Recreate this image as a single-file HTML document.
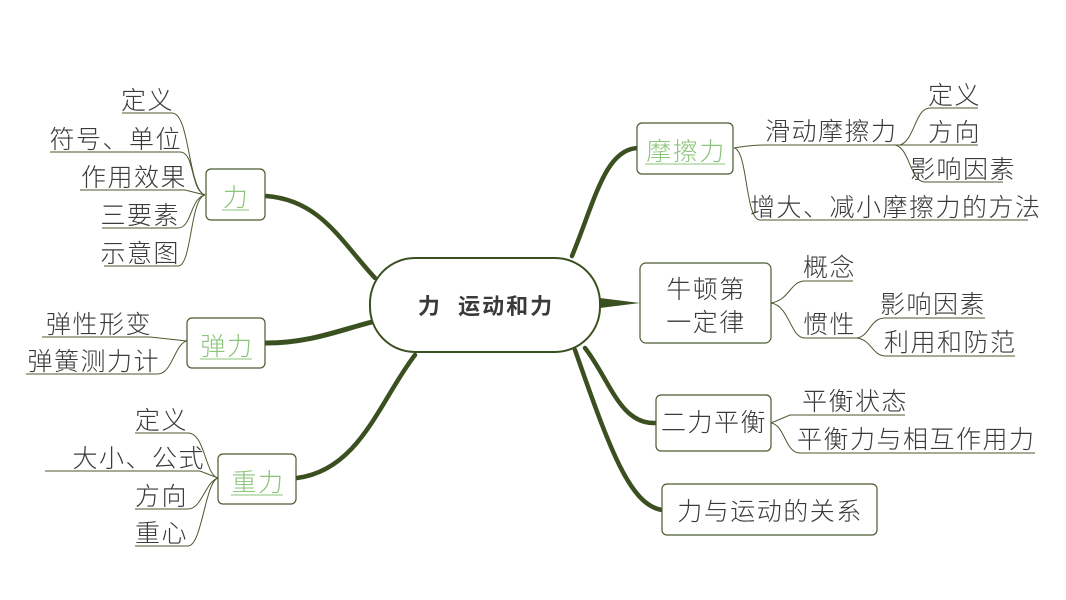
<!DOCTYPE html>
<html><head><meta charset="utf-8"><style>
html,body{margin:0;padding:0;background:#fff;width:1066px;height:600px;overflow:hidden}
text{font-family:"Liberation Sans","Noto Sans CJK SC",sans-serif;font-size:25px;letter-spacing:1.5px;fill:#3a3a3a;font-weight:300}
.g{fill:#8cc47a}
.b{fill:#fff;stroke:#4a5a30;stroke-width:1.2}
.t{fill:none;stroke:#4a5a30;stroke-width:1}
.m{fill:none;stroke:#3b5020;stroke-width:4.5;stroke-linecap:round}
</style></head><body>
<svg width="1066" height="600" xmlns="http://www.w3.org/2000/svg">
<path class="m" d="M266,196 C320,200 340,240 375,278"/>
<path class="m" d="M266,343 C310,343 340,330 372,322" style="stroke-width:5"/>
<path class="m" d="M297,478 C360,470 380,400 415,355"/>
<path class="m" d="M637,148 C605,150 595,200 572,256"/>
<path d="M640,303 L600,298 L600,308 Z" fill="#3b5020"/>
<path class="m" d="M656,423 C620,425 610,380 585,348"/>
<path class="m" d="M662,510 C630,505 610,450 575,350"/>
<rect x="370" y="258" width="230" height="94" rx="45" fill="#fff" stroke="#3b5020" stroke-width="2"/>
<text x="486" y="314" text-anchor="middle" xml:space="preserve" style="font-weight:bold;font-size:22px;letter-spacing:2px">力  运动和力</text>
<rect class="b" x="206" y="169" width="59" height="51" rx="5"/>
<text class="g" x="236" y="206" text-anchor="middle">力</text><line x1="222" y1="210" x2="249" y2="210" stroke="#8cc47a"/>
<g class="t">
<path d="M122,113 H172 C190,113 188,190 205,195"/>
<path d="M50,152 H180 C195,152 190,190 205,195"/>
<path d="M80,190 H185 L205,195"/>
<path d="M102,228 H178 C192,228 190,198 205,195"/>
<path d="M104,266 H178 C192,266 190,198 205,195"/>
</g>
<text x="174" y="109" text-anchor="end">定义</text>
<text x="182" y="148" text-anchor="end">符号、单位</text>
<text x="187" y="186" text-anchor="end">作用效果</text>
<text x="180" y="224" text-anchor="end">三要素</text>
<text x="180" y="262" text-anchor="end">示意图</text>
<rect class="b" x="187" y="318" width="78" height="50" rx="5"/>
<text class="g" x="227" y="355" text-anchor="middle">弹力</text><line x1="200" y1="359" x2="252" y2="359" stroke="#8cc47a"/>
<g class="t">
<path d="M42,337 H150 L187,341"/>
<path d="M26,374 H158 C172,374 175,343 187,341"/>
</g>
<text x="152" y="333" text-anchor="end">弹性形变</text>
<text x="160" y="370" text-anchor="end">弹簧测力计</text>
<rect class="b" x="218" y="454" width="78" height="50" rx="5"/>
<text class="g" x="258" y="491" text-anchor="middle">重力</text><line x1="231" y1="495" x2="283" y2="495" stroke="#8cc47a"/>
<g class="t">
<path d="M135,433 H188 C205,433 205,475 218,478"/>
<path d="M45,471 H200 L218,478"/>
<path d="M135,509 H188 C202,509 205,482 218,478"/>
<path d="M135,546 H188 C202,546 205,482 218,478"/>
</g>
<text x="188" y="429" text-anchor="end">定义</text>
<text x="205" y="467" text-anchor="end">大小、公式</text>
<text x="188" y="505" text-anchor="end">方向</text>
<text x="188" y="542" text-anchor="end">重心</text>
<rect class="b" x="637" y="123" width="96" height="51" rx="5"/>
<text class="g" x="686" y="160" text-anchor="middle">摩擦力</text><line x1="645" y1="164" x2="725" y2="164" stroke="#8cc47a"/>
<g class="t">
<path d="M734,148 C745,146 755,145 765,145 H900"/>
<path d="M734,148 C748,150 745,220 760,220 H1028"/>
<path d="M900,145 C915,140 915,108 930,108 H978"/>
<path d="M900,145 H978"/>
<path d="M895,145 C910,148 910,182 925,182 H1003"/>
</g>
<text x="765" y="140">滑动摩擦力</text>
<text x="928" y="104">定义</text>
<text x="928" y="141">方向</text>
<text x="910" y="178">影响因素</text>
<text x="750" y="216">增大、减小摩擦力的方法</text>
<rect class="b" x="640" y="263" width="131" height="80" rx="6"/>
<text x="706" y="298" text-anchor="middle">牛顿第</text>
<text x="706" y="331" text-anchor="middle">一定律</text>
<g class="t">
<path d="M771,303 C790,300 790,281 805,281 H853"/>
<path d="M771,303 C790,306 790,338 805,338 H857"/>
<path d="M857,338 C870,336 870,318 885,318 H985"/>
<path d="M857,338 C872,340 872,356 886,356 H1015"/>
</g>
<text x="803" y="276">概念</text>
<text x="803" y="333">惯性</text>
<text x="880" y="313">影响因素</text>
<text x="884" y="351">利用和防范</text>
<rect class="b" x="656" y="395" width="115" height="56" rx="5"/>
<text x="714" y="431" text-anchor="middle">二力平衡</text>
<g class="t">
<path d="M771,423 L790,415 H905"/>
<path d="M771,423 C785,425 785,453 800,453 H1035"/>
</g>
<text x="802" y="410">平衡状态</text>
<text x="797" y="448">平衡力与相互作用力</text>
<rect class="b" x="662" y="484" width="215" height="51" rx="5"/>
<text x="770" y="520" text-anchor="middle">力与运动的关系</text>
</svg>
</body></html>
